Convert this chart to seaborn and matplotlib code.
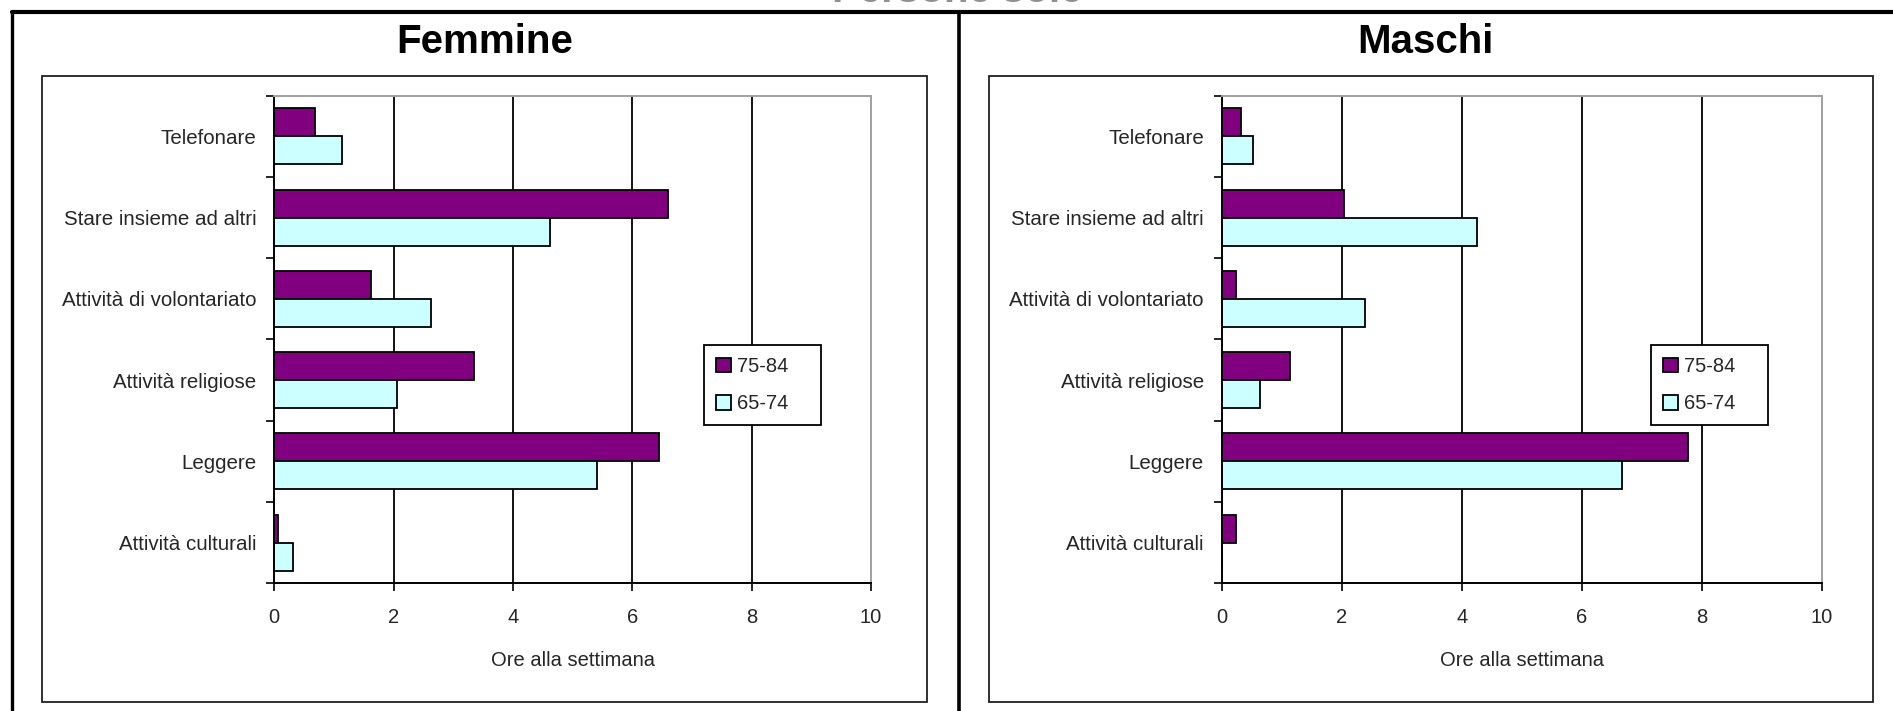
import matplotlib
matplotlib.use("Agg")
import matplotlib.pyplot as plt
import pandas as pd
import seaborn as sns
from matplotlib.lines import Line2D
from matplotlib.patches import Rectangle

# --- data (hours per week) ---
activities = ["Telefonare", "Stare insieme ad altri", "Attività di volontariato",
              "Attività religiose", "Leggere", "Attività culturali"]
age_groups = ["75-84", "65-74"]

femmine_75_84 = [0.69, 6.59, 1.62, 3.35, 6.45, 0.06]
femmine_65_74 = [1.14, 4.62, 2.62, 2.06, 5.41, 0.31]
maschi_75_84 = [0.31, 2.03, 0.24, 1.14, 7.76, 0.24]
maschi_65_74 = [0.51, 4.25, 2.38, 0.64, 6.66, 0.0]

x_ticks = [0, 2, 4, 6, 8, 10]
colors = {"75-84": "#800080", "65-74": "#CCFFFF"}

W, H = 1893, 711

sns.set_style("white")
plt.rcParams["font.family"] = ["Liberation Sans", "DejaVu Sans"]


def long_form(v75, v65):
    return pd.DataFrame({
        "attivita": activities * 2,
        "eta": ["75-84"] * len(activities) + ["65-74"] * len(activities),
        "ore": list(v75) + list(v65),
    })


def fx(x):
    return x / W


def fy(y):
    return 1 - y / H


def draw_panel(ax, df, legend_box):
    sns.barplot(data=df, y="attivita", x="ore", hue="eta", hue_order=age_groups,
                order=activities, palette=colors, saturation=1, orient="h", width=0.69,
                edgecolor="black", linewidth=1.3, ax=ax, legend=True)
    ax.set_xlim(0, 10)
    ax.set_ylim(len(activities) - 0.5, -0.5)
    ax.set_xticks(x_ticks)
    ax.set_xticklabels([str(t) for t in x_ticks])
    ax.set_ylabel("")
    ax.set_xlabel("Ore alla settimana", fontsize=14.5, labelpad=17)

    # excel-like ticks: marks on the boundaries between categories
    ax.set_yticks([i - 0.5 for i in range(len(activities) + 1)], minor=True)
    ax.tick_params(left=True, bottom=True, which="both")
    ax.tick_params(axis="y", which="major", length=0, pad=13, labelsize=14.8)
    ax.tick_params(axis="y", which="minor", length=6, width=1.2, direction="out", color="black")
    ax.tick_params(axis="x", which="major", length=6, width=1.2, direction="out",
                   pad=12, labelsize=14.5, color="black")

    for t in x_ticks[1:-1]:
        ax.axvline(t, color="black", lw=1.3, zorder=0)
    for side in ["left", "bottom"]:
        ax.spines[side].set_color("black")
        ax.spines[side].set_linewidth(1.4)
    for side in ["top", "right"]:
        ax.spines[side].set_color("#a0a0a0")
        ax.spines[side].set_linewidth(1.4)

    handles, labels = ax.get_legend_handles_labels()
    ax.get_legend().remove()
    x0, y0, x1, y1 = legend_box
    leg = ax.legend(handles, labels, loc="upper left",
                    bbox_to_anchor=(fx(x0), fy(y0), fx(x1) - fx(x0), fy(y1) - fy(y0)),
                    bbox_transform=ax.figure.transFigure, mode="expand",
                    fontsize=14.5, handlelength=0.75, handleheight=0.75,
                    handletextpad=0.3, labelspacing=0.9, borderpad=0.6,
                    borderaxespad=0, fancybox=False, framealpha=1, alignment="center")
    leg.get_frame().set_edgecolor("black")
    leg.get_frame().set_linewidth(1.3)


fig = plt.figure(figsize=(W / 100, H / 100), dpi=100)

ax_f = fig.add_axes([fx(274.3), fy(583.3), fx(871) - fx(274.3), fy(95.7) - fy(583.3)])
ax_m = fig.add_axes([fx(1222), fy(583.3), fx(1822) - fx(1222), fy(95.7) - fy(583.3)])

draw_panel(ax_f, long_form(femmine_75_84, femmine_65_74), (704, 264, 821, 345))
draw_panel(ax_m, long_form(maschi_75_84, maschi_65_74), (1651, 264, 1768, 345))

# outer frame and chart borders
for xs, ys, lw in [((12, W), (12, 12), 3.0), ((12, 12), (12, H), 2.4), ((959, 959), (12, H), 2.6)]:
    fig.add_artist(Line2D([fx(v) for v in xs], [fy(v) for v in ys], color="black", lw=lw))
for x0, x1 in [(42, 927), (989, 1873)]:
    fig.add_artist(Rectangle((fx(x0), fy(702)), fx(x1) - fx(x0), fy(76) - fy(702),
                             transform=fig.transFigure, fill=False, ec="#202020", lw=1.3))

# titles
title_kw = dict(fontweight="bold", ha="center", va="center", color="black")
fig.text(fx(485), fy(42), "Femmine", fontsize=29, **title_kw)
fig.text(fx(1425), fy(42), "Maschi", fontsize=29, **title_kw)
# the page title is cut off by the top edge in the reference
fig.text(fx(957), fy(2), "Persone sole", fontsize=29, color="#909090",
         fontweight="bold", ha="center", va="baseline")

fig.savefig("out.png", dpi=100, facecolor="white")
